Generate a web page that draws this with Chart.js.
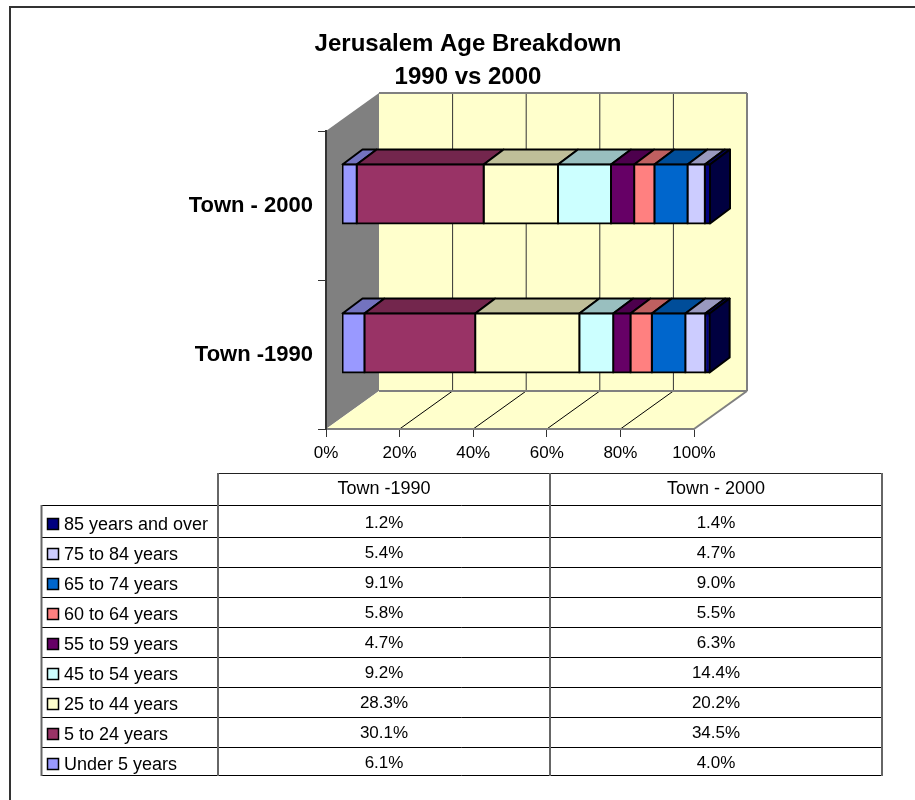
<!DOCTYPE html>
<html>
<head>
<meta charset="utf-8">
<title>Jerusalem Age Breakdown</title>
<script src="https://cdn.jsdelivr.net/npm/chart.js@4"></script>
<style>
  html, body { margin: 0; background: #fff; overflow: hidden; }
  canvas { display: block; }
</style>
</head>
<body>
<canvas id="ageChart" width="915" height="800"></canvas>
<script>
const categories = ['Town -1990', 'Town - 2000'];
const ageBands = ['Under 5 years', '5 to 24 years', '25 to 44 years', '45 to 54 years', '55 to 59 years',
    '60 to 64 years', '65 to 74 years', '75 to 84 years', '85 years and over'];
const under5 = [6.1, 4.0];
const age5to24 = [30.1, 34.5];
const age25to44 = [28.3, 20.2];
const age45to54 = [9.2, 14.4];
const age55to59 = [4.7, 6.3];
const age60to64 = [5.8, 5.5];
const age65to74 = [9.1, 9.0];
const age75to84 = [5.4, 4.7];
const age85plus = [1.2, 1.4];
const bandColors = ['#9999FF', '#993366', '#FFFFCC', '#CCFFFF', '#660066', '#FF8080', '#0066CC', '#CCCCFF', '#000080'];
const bandValues = [under5, age5to24, age25to44, age45to54, age55to59, age60to64, age65to74, age75to84, age85plus];
const titleLines = ['Jerusalem Age Breakdown', '1990 vs 2000'];
const xTicks = [0, 20, 40, 60, 80, 100];

const FONT = '"Liberation Sans", Arial, sans-serif';

// fake 3D offsets, all in pixels
const wallDx = 53, wallDy = -38;     // back wall vs front plane
const barDx = 16, barDy = -11.5;     // where the bars sit in the box
const boxDx = 20, boxDy = -15;       // depth of a bar

function shade(hex, f) {
    const n = parseInt(hex.slice(1), 16);
    const c = s => Math.round(((n >> s) & 255) * f);
    return `rgb(${c(16)},${c(8)},${c(0)})`;
}

function poly(ctx, pts, fill, stroke, width) {
    ctx.beginPath();
    pts.forEach((p, i) => i ? ctx.lineTo(p[0], p[1]) : ctx.moveTo(p[0], p[1]));
    ctx.closePath();
    if (fill) { ctx.fillStyle = fill; ctx.fill(); }
    if (stroke) { ctx.strokeStyle = stroke; ctx.lineWidth = width; ctx.lineJoin = 'round'; ctx.stroke(); }
}

function line(ctx, x1, y1, x2, y2, color, width) {
    ctx.beginPath();
    ctx.moveTo(x1, y1);
    ctx.lineTo(x2, y2);
    ctx.strokeStyle = color;
    ctx.lineWidth = width;
    ctx.stroke();
}

const box3d = {
    id: 'box3d',
    afterLayout(chart) {
        // the title sits a bit right of the canvas centre
        chart.titleBlock.left = 21;
        chart.titleBlock.right = 915;
    },
    beforeDraw(chart) {
        const { ctx, chartArea: a, scales } = chart;
        ctx.save();
        // page frame, only top and left are in view
        line(ctx, 10, 7, 915, 7, '#333', 2);
        line(ctx, 10, 6, 10, 800, '#333', 2);
        // walls
        poly(ctx, [[a.left, a.top], [a.left + wallDx, a.top + wallDy], [a.left + wallDx, a.bottom + wallDy], [a.left, a.bottom]], '#808080');
        ctx.fillStyle = '#FFFFCC';
        ctx.fillRect(a.left + wallDx, a.top + wallDy, a.right - a.left, a.bottom - a.top);
        poly(ctx, [[a.left, a.bottom], [a.right, a.bottom], [a.right + wallDx, a.bottom + wallDy], [a.left + wallDx, a.bottom + wallDy]], '#FFFFCC');
        // gridlines on back wall and floor
        xTicks.slice(1, -1).forEach(v => {
            const x = scales.x.getPixelForValue(v);
            line(ctx, x + wallDx, a.top + wallDy, x + wallDx, a.bottom + wallDy, '#333', 1);
            line(ctx, x, a.bottom, x + wallDx, a.bottom + wallDy, '#000', 1);
        });
        // grey edges of the box
        line(ctx, a.left + wallDx, a.top + wallDy, a.right + wallDx, a.top + wallDy, '#808080', 2);
        line(ctx, a.right + wallDx, a.top + wallDy, a.right + wallDx, a.bottom + wallDy, '#808080', 2);
        line(ctx, a.left + wallDx, a.bottom + wallDy, a.right + wallDx, a.bottom + wallDy, '#808080', 2);
        line(ctx, a.right, a.bottom, a.right + wallDx, a.bottom + wallDy, '#808080', 2);
        ctx.restore();
    },
    beforeDatasetsDraw(chart) {
        const { ctx, data } = chart;
        ctx.save();
        ctx.translate(barDx, barDy);
        // top faces and the end face, built from the bar elements
        data.datasets.forEach((ds, i) => {
            chart.getDatasetMeta(i).data.forEach(bar => {
                const top = bar.y - bar.height / 2;
                poly(ctx, [[bar.base, top], [bar.x, top], [bar.x + boxDx, top + boxDy], [bar.base + boxDx, top + boxDy]],
                    shade(ds.backgroundColor, 0.75), '#000', 2);
                if (i === data.datasets.length - 1) {
                    const bottom = bar.y + bar.height / 2;
                    poly(ctx, [[bar.x, top], [bar.x + boxDx, top + boxDy], [bar.x + boxDx, bottom + boxDy], [bar.x, bottom]],
                        shade(ds.backgroundColor, 0.5), '#000', 2);
                }
            });
        });
    },
    afterDatasetsDraw(chart) {
        chart.ctx.restore();
    },
    afterDraw(chart) {
        const { ctx, data } = chart;
        const tLeft = 41.5, c1 = 218, c2 = 550, c3 = 882;
        const rows = [505.5, 537.5, 567.5, 597.5, 627.5, 657.5, 687.5, 717.5, 747.5, 775.5];
        ctx.save();
        ctx.textBaseline = 'middle';
        ctx.fillStyle = '#000';
        // header row
        ctx.font = '18px ' + FONT;
        ctx.textAlign = 'center';
        categories.forEach((c, j) => ctx.fillText(c, j ? (c2 + c3) / 2 : (c1 + c2) / 2, 489));
        // rows run from the last band to the first
        data.datasets.slice().reverse().forEach((ds, r) => {
            const rowY = 522 + r * 30;
            ctx.font = '17px ' + FONT;
            ctx.textAlign = 'center';
            ctx.fillStyle = '#000';
            ds.data.forEach((v, j) => {
                ctx.fillText(v.toFixed(1) + '%', j ? (c2 + c3) / 2 : (c1 + c2) / 2, rowY + 1);
            });
            ctx.font = '18px ' + FONT;
            ctx.textAlign = 'left';
            ctx.fillText(ds.label, 64, rowY + 3);
            ctx.fillStyle = ds.backgroundColor;
            ctx.fillRect(47.5, rowY - 3.5, 11, 11);
            ctx.strokeStyle = '#000';
            ctx.lineWidth = 1.5;
            ctx.strokeRect(47.5, rowY - 3.5, 11, 11);
        });
        // table rules
        line(ctx, c1, 473.5, c3, 473.5, '#222', 1);
        rows.forEach((y, i) => line(ctx, tLeft, y, i === rows.length - 1 ? c3 : c3 - 1, y, '#000', 1));
        line(ctx, tLeft, 505, tLeft, 776, '#666', 2);
        [c1, c2, c3].forEach(x => line(ctx, x, 473, x, 776, '#666', 2));
        ctx.restore();
    }
};

new Chart(document.getElementById('ageChart'), {
    type: 'bar',
    data: {
        labels: categories,
        datasets: ageBands.map((name, i) => ({
            label: name,
            data: bandValues[i],
            backgroundColor: bandColors[i],
            borderColor: '#000',
            borderWidth: 2,
            borderSkipped: false,
            inflateAmount: 1,
            barThickness: 59
        }))
    },
    options: {
        indexAxis: 'y',
        responsive: false,
        animation: false,
        layout: { padding: { left: 0, right: 221, top: 0, bottom: 0 } },
        plugins: {
            legend: { display: false },
            tooltip: { enabled: false },
            title: {
                display: true,
                text: titleLines,
                color: '#000',
                font: { family: FONT, size: 24, weight: 'bold', lineHeight: '33px' },
                padding: { top: 27.5, bottom: 37.5 }
            }
        },
        scales: {
            x: {
                stacked: true,
                min: 0,
                max: 100,
                afterFit: s => { s.height = 371; },
                afterBuildTicks: s => { s.ticks = xTicks.map(v => ({ value: v })); },
                ticks: {
                    autoSkip: false,
                    maxRotation: 0,
                    color: '#000',
                    padding: 6,
                    font: { family: FONT, size: 17 },
                    callback: v => v + '%'
                },
                grid: { drawOnChartArea: false, tickLength: 8, tickColor: '#333', tickWidth: 1 },
                border: { color: '#808080', width: 2 }
            },
            y: {
                stacked: true,
                reverse: true,
                afterFit: s => { s.width = 326; },
                ticks: {
                    color: '#000',
                    padding: 5,
                    font: { family: FONT, size: 22, weight: 'bold' }
                },
                grid: { drawOnChartArea: false, tickLength: 8, tickColor: '#333', tickWidth: 1 },
                border: { color: '#333', width: 2 }
            }
        }
    },
    plugins: [box3d]
});
</script>
</body>
</html>
